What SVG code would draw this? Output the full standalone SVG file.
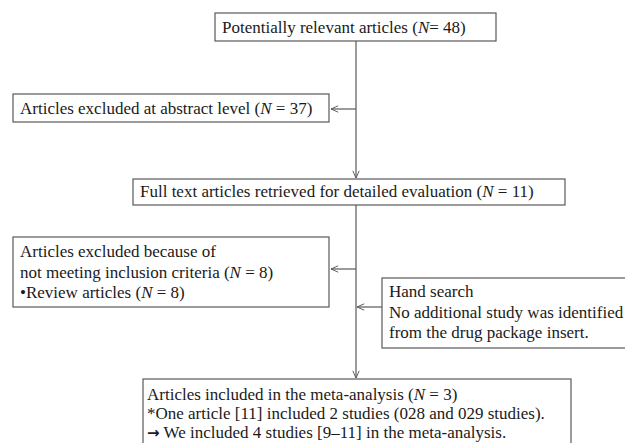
<svg xmlns="http://www.w3.org/2000/svg" width="625" height="443" viewBox="0 0 625 443">
<defs>
<style>
.box{fill:#fff;stroke:#595959;stroke-width:1.2}
.t{font-family:"Liberation Serif","Times New Roman",serif;font-size:17px;fill:#1a1a1a}
.i{font-style:italic}
.c{fill:none;stroke:#595959;stroke-width:1.2}
.ar{font-family:"DejaVu Sans",sans-serif;font-weight:bold;font-size:15px}
</style>
<marker id="ah" viewBox="0 0 10 10" refX="10" refY="5" markerWidth="8" markerHeight="8" markerUnits="userSpaceOnUse" orient="auto">
<path d="M1,1 L10,5 L1,9" fill="none" stroke="#595959" stroke-width="1.2"/>
</marker>
</defs>
<rect width="625" height="443" fill="#fff"/>
<g id="connectors">
<line class="c" x1="356" y1="41" x2="356" y2="178" marker-end="url(#ah)"/>
<line class="c" x1="356" y1="109" x2="331" y2="109" marker-end="url(#ah)"/>
<line class="c" x1="356" y1="205" x2="356" y2="378" marker-end="url(#ah)"/>
<line class="c" x1="356" y1="269" x2="331" y2="269" marker-end="url(#ah)"/>
<line class="c" x1="382" y1="307" x2="357" y2="307" marker-end="url(#ah)"/>
</g>
<g id="n1">
<rect class="box" x="215" y="13" width="281" height="28"/>
<text class="t" x="222" y="33">Potentially relevant articles (<tspan class="i">N</tspan>= 48)</text>
</g>
<g id="n2">
<rect class="box" x="13" y="94" width="316" height="28"/>
<text class="t" x="20" y="114">Articles excluded at abstract level (<tspan class="i">N</tspan> = 37)</text>
</g>
<g id="n3">
<rect class="box" x="133" y="179" width="432" height="26"/>
<text class="t" x="140" y="197">Full text articles retrieved for detailed evaluation (<tspan class="i">N</tspan> = 11)</text>
</g>
<g id="n4">
<rect class="box" x="13" y="237" width="316" height="70"/>
<text class="t" x="20" y="257">Articles excluded because of</text>
<text class="t" x="20" y="278">not meeting inclusion criteria (<tspan class="i">N</tspan> = 8)</text>
<text class="t" x="20" y="298">•Review articles (<tspan class="i">N</tspan> = 8)</text>
</g>
<g id="n5">
<rect class="box" x="382" y="278" width="260" height="70"/>
<text class="t" x="389" y="297">Hand search</text>
<text class="t" x="389" y="318">No additional study was identified</text>
<text class="t" x="389" y="338">from the drug package insert.</text>
</g>
<g id="n6">
<rect class="box" x="143" y="379" width="428" height="80"/>
<text class="t" x="147" y="400">Articles included in the meta-analysis (<tspan class="i">N</tspan> = 3)</text>
<text class="t" x="147" y="419">*One article [11] included 2 studies (028 and 029 studies).</text>
<text class="t" x="147" y="438"><tspan class="ar">→</tspan> We included 4 studies [9–11] in the meta-analysis.</text>
</g>
</svg>
